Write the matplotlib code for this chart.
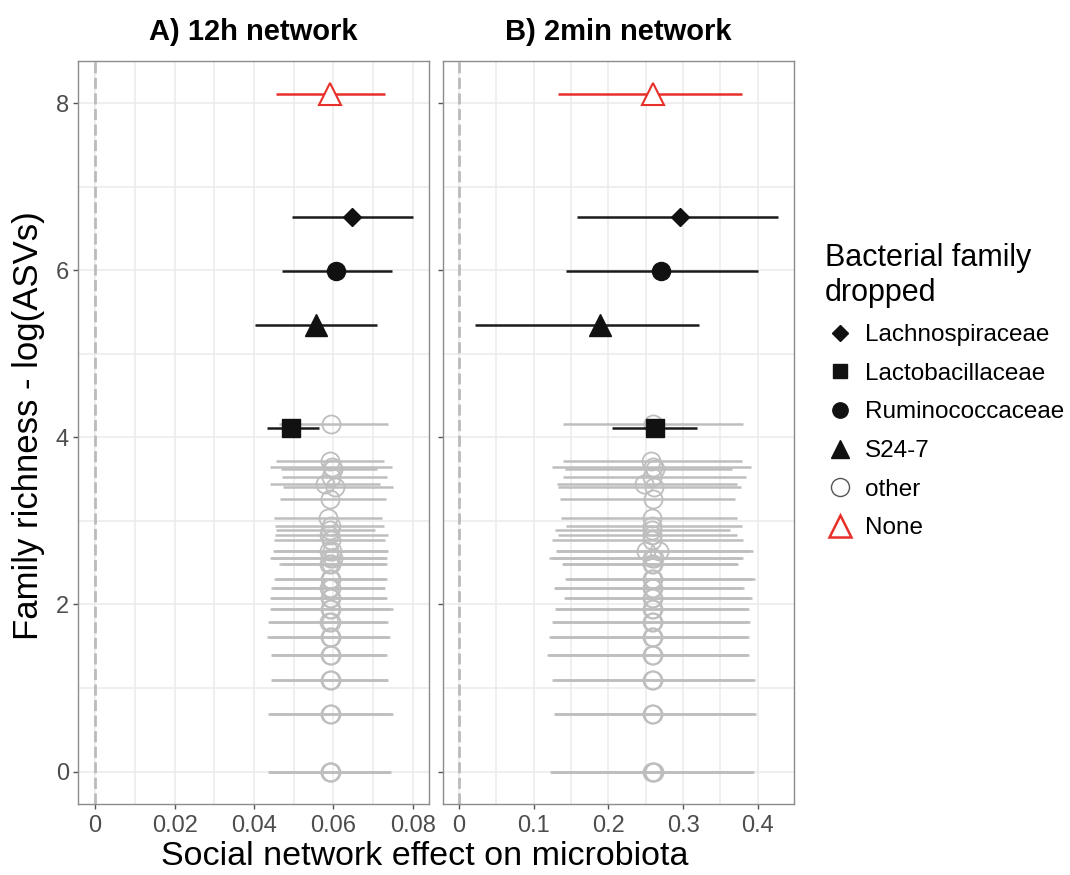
import matplotlib.pyplot as plt
from matplotlib.lines import Line2D

plt.rcParams["font.family"] = ["Liberation Sans", "DejaVu Sans"]

# highlighted families (dropped one at a time), y = log(number of ASVs)
fam_names = ["Lachnospiraceae", "Lactobacillaceae", "Ruminococcaceae", "S24-7"]
fam_markers = ["D", "s", "o", "^"]
fam_sizes = [9, 12.5, 13, 16]
fam_y = [6.64, 4.11, 5.99, 5.34]
fam_a_est = [0.0646, 0.0494, 0.0606, 0.0556]
fam_a_lo = [0.0497, 0.0433, 0.0471, 0.0402]
fam_a_hi = [0.0801, 0.0563, 0.0748, 0.0710]
fam_b_est = [0.296, 0.262, 0.271, 0.189]
fam_b_lo = [0.158, 0.205, 0.143, 0.022]
fam_b_hi = [0.427, 0.319, 0.401, 0.321]

# full model (nothing dropped)
none_y = 8.11
none_a = (0.0456, 0.0592, 0.0730)
none_b = (0.133, 0.260, 0.379)

# all other families
other_y = [4.16, 3.72, 3.64, 3.62, 3.53, 3.44, 3.41, 3.26, 3.04, 2.94, 2.89,
           2.83, 2.77, 2.64, 2.64, 2.56, 2.56, 2.48, 2.48, 2.30, 2.30, 2.20,
           2.20, 2.08, 2.08, 1.95, 1.95, 1.79, 1.79, 1.61, 1.61, 1.39, 1.39,
           1.10, 1.10, 0.69, 0.69, 0.00, 0.00, 0.00]
other_a_lo = [0.0462, 0.0456, 0.0440, 0.0468, 0.0471, 0.0441, 0.0472, 0.0465,
              0.0450, 0.0452, 0.0456, 0.0452, 0.0450, 0.0454, 0.0448, 0.0440,
              0.0446, 0.0471, 0.0462, 0.0456, 0.0450, 0.0443, 0.0448, 0.0441,
              0.0446, 0.0446, 0.0440, 0.0436, 0.0441, 0.0432, 0.0438, 0.0446,
              0.0443, 0.0443, 0.0446, 0.0436, 0.0440, 0.0436, 0.0440, 0.0438]
other_a_mid = [0.0594, 0.0592, 0.0596, 0.0600, 0.0594, 0.0578, 0.0604, 0.0592,
               0.0586, 0.0594, 0.0592, 0.0590, 0.0594, 0.0590, 0.0596, 0.0592,
               0.0598, 0.0594, 0.0590, 0.0594, 0.0592, 0.0590, 0.0594, 0.0592,
               0.0595, 0.0594, 0.0591, 0.0590, 0.0594, 0.0592, 0.0595, 0.0592,
               0.0594, 0.0592, 0.0593, 0.0592, 0.0594, 0.0592, 0.0594, 0.0591]
other_a_hi = [0.0738, 0.0728, 0.0747, 0.0709, 0.0736, 0.0717, 0.0751, 0.0732,
              0.0723, 0.0728, 0.0706, 0.0738, 0.0730, 0.0737, 0.0734, 0.0731,
              0.0736, 0.0734, 0.0730, 0.0730, 0.0734, 0.0728, 0.0731, 0.0730,
              0.0736, 0.0751, 0.0742, 0.0737, 0.0733, 0.0742, 0.0738, 0.0734,
              0.0730, 0.0734, 0.0737, 0.0751, 0.0745, 0.0742, 0.0738, 0.0745]
other_b_lo = [0.1399, 0.1399, 0.1252, 0.1417, 0.1399, 0.1310, 0.1328, 0.1355,
              0.1364, 0.1430, 0.1288, 0.1328, 0.1243, 0.1297, 0.1310, 0.1208,
              0.1250, 0.1395, 0.1380, 0.1444, 0.1420, 0.1275, 0.1290, 0.1430,
              0.1410, 0.1288, 0.1300, 0.1239, 0.1260, 0.1208, 0.1230, 0.1176,
              0.1200, 0.1252, 0.1270, 0.1275, 0.1290, 0.1221, 0.1240, 0.1230]
other_b_mid = [0.2600, 0.2570, 0.2600, 0.2620, 0.2580, 0.2480, 0.2610, 0.2600,
               0.2590, 0.2590, 0.2580, 0.2590, 0.2590, 0.2500, 0.2680, 0.2590,
               0.2610, 0.2600, 0.2580, 0.2590, 0.2600, 0.2590, 0.2600, 0.2600,
               0.2590, 0.2590, 0.2600, 0.2590, 0.2600, 0.2590, 0.2600, 0.2590,
               0.2600, 0.2600, 0.2590, 0.2600, 0.2590, 0.2600, 0.2590, 0.2605]
other_b_hi = [0.3801, 0.3792, 0.3913, 0.3659, 0.3846, 0.3726, 0.3770, 0.3694,
              0.3717, 0.3792, 0.3623, 0.3726, 0.3801, 0.3939, 0.3900, 0.3806,
              0.3780, 0.3717, 0.3740, 0.3962, 0.3930, 0.3792, 0.3810, 0.3917,
              0.3890, 0.3859, 0.3880, 0.3895, 0.3870, 0.3859, 0.3880, 0.3859,
              0.3880, 0.3962, 0.3940, 0.3971, 0.3950, 0.3926, 0.3950, 0.3940]

GREY = "#BEBEBE"
RED = "#E8302A"


def style_panel(ax, xlim, xmajor, xminor, xlabels):
    ax.set_xlim(*xlim)
    ax.set_ylim(-0.39, 8.50)
    ax.set_xticks(xmajor)
    ax.set_xticklabels(xlabels)
    ax.set_xticks(xminor, minor=True)
    ax.set_yticks([0, 2, 4, 6, 8])
    ax.set_yticks([1, 3, 5, 7], minor=True)
    ax.grid(True, which="both", color="#EBEBEB", lw=1.1, zorder=0)
    ax.set_axisbelow(True)
    for s in ax.spines.values():
        s.set_color("#8C8C8C")
        s.set_linewidth(1.0)
    ax.tick_params(which="major", length=3.5, width=1, color="#555555",
                   labelsize=17, labelcolor="#4D4D4D", pad=3)
    ax.tick_params(axis="x", which="major", pad=4)
    ax.tick_params(which="minor", length=0)
    ax.axvline(0, color="#BBBBBB", lw=2, linestyle=(0, (4, 1.6)), zorder=1)


def draw_panel(ax, o_lo, o_mid, o_hi, f_lo, f_est, f_hi, none_vals):
    ax.hlines(other_y, o_lo, o_hi, color=GREY, lw=1.8, zorder=2)
    ax.plot(o_mid, other_y, linestyle="none", marker="o", ms=13,
            mfc="none", mec=GREY, mew=1.3, zorder=3)
    for i in range(len(fam_names)):
        ax.hlines(fam_y[i], f_lo[i], f_hi[i], color="#1A1A1A", lw=1.8, zorder=4)
        ax.plot(f_est[i], fam_y[i], marker=fam_markers[i], ms=fam_sizes[i],
                color="#111111", linestyle="none", zorder=5)
    ax.hlines(none_y, none_vals[0], none_vals[2], color=RED, lw=1.8, zorder=4)
    ax.plot(none_vals[1], none_y, marker="^", ms=16, mfc="white", mec=RED,
            mew=1.5, linestyle="none", zorder=5)


fig = plt.figure(figsize=(10.7, 8.75), dpi=100)
ax1 = fig.add_axes([0.073, 0.081, 0.328, 0.849])
ax2 = fig.add_axes([0.414, 0.081, 0.328, 0.849])

draw_panel(ax1, other_a_lo, other_a_mid, other_a_hi,
           fam_a_lo, fam_a_est, fam_a_hi, none_a)
draw_panel(ax2, other_b_lo, other_b_mid, other_b_hi,
           fam_b_lo, fam_b_est, fam_b_hi, none_b)

style_panel(ax1, (-0.0043, 0.0841), [0, 0.02, 0.04, 0.06, 0.08],
            [0.01, 0.03, 0.05, 0.07], ["0", "0.02", "0.04", "0.06", "0.08"])
style_panel(ax2, (-0.0214, 0.4485), [0, 0.1, 0.2, 0.3, 0.4],
            [0.05, 0.15, 0.25, 0.35], ["0", "0.1", "0.2", "0.3", "0.4"])
ax2.set_yticklabels([])

ax1.set_title("A) 12h network", fontsize=21, fontweight="bold", pad=15)
ax2.set_title("B) 2min network", fontsize=21, fontweight="bold", pad=15)
fig.text(0.027, 0.514, "Family richness - log(ASVs)", rotation=90,
         ha="center", va="center", fontsize=25)
fig.text(0.397, 0.0215, "Social network effect on microbiota",
         ha="center", va="center", fontsize=24.5)

handles = []
for i in range(len(fam_names)):
    handles.append(Line2D([], [], marker=fam_markers[i], color="#111111",
                          linestyle="none", ms=fam_sizes[i] * 0.85))
handles.append(Line2D([], [], marker="o", mfc="none", mec="#555555",
                      mew=1.0, linestyle="none", ms=13))
handles.append(Line2D([], [], marker="^", mfc="white", mec=RED,
                      mew=1.8, linestyle="none", ms=16))
labels = fam_names + ["other", "None"]
leg = fig.legend(handles, labels, title="Bacterial family\ndropped",
                 loc="upper left", bbox_to_anchor=(0.771, 0.722),
                 frameon=False, fontsize=17.5, title_fontsize=22,
                 labelspacing=0.68, handletextpad=0.45, handlelength=1.2,
                 borderpad=0, borderaxespad=0)
leg._legend_box.align = "left"

fig.savefig("out.png", dpi=100)
